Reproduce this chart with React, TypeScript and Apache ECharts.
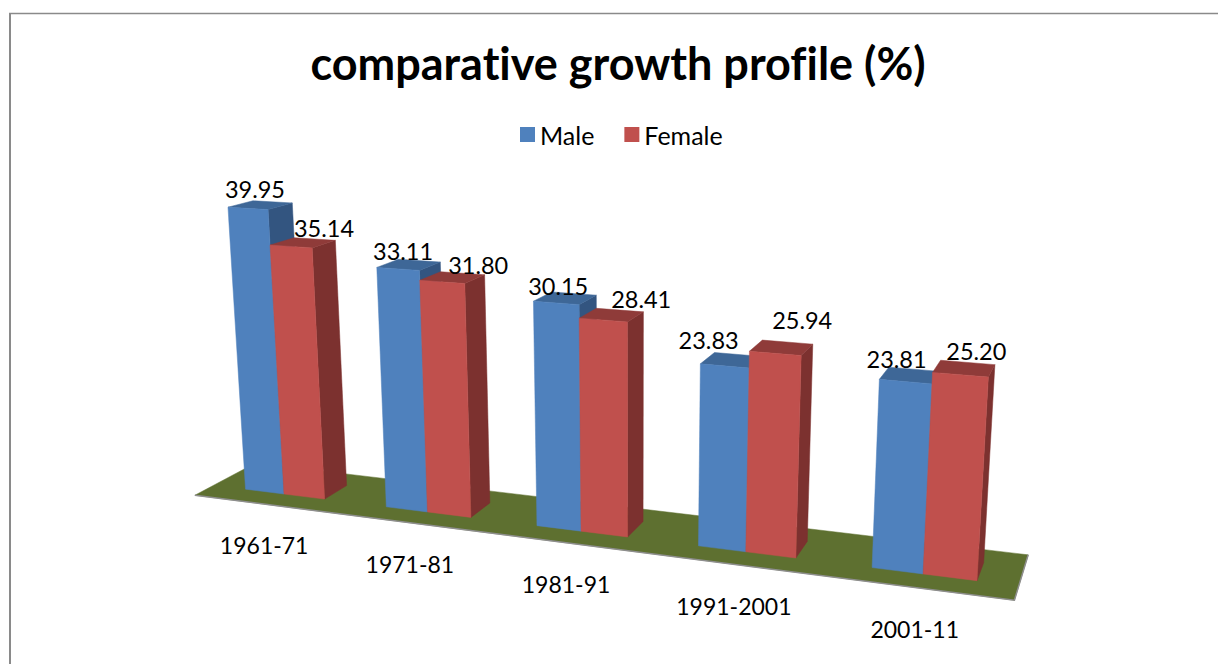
import React, { useEffect, useRef } from "react";
import * as echarts from "echarts";

const categories = ["1961-71", "1971-81", "1981-91", "1991-2001", "2001-11"];
const maleValues = [39.95, 33.11, 30.15, 23.83, 23.81];
const femaleValues = [35.14, 31.8, 28.41, 25.94, 25.2];

// Nudges of the data labels from the top centre of each bar's front face.
const maleLabelNudge = [[7, -19], [5, -18], [2, -17], [-16, -26], [-9, -23]];
const femaleLabelNudge = [[33, -18], [36, -17], [38, -21], [27, -33], [16, -24]];

const VALUE_MAX = 40;
const MALE_WIDTH = 0.28;
const FEMALE_WIDTH = 0.29;
const FONT = "Lato, 'Open Sans', sans-serif";

// Pinhole projection fitted to the reference: u = category position, h = value, z = depth.
function project(u: number, h: number, z: number): [number, number] {
  const w = 1 - 0.0329 * u - 0.00109 * h + 0.0252 * z;
  const x = 284 + 129.4 * u - 0.691 * h + 30.5 * z;
  const y = 494 + 1.1 * u - 7.35 * h - 1.134 * z;
  return [x / w, y / w];
}

// Read a category/value pair through the hidden axes and turn it into (u, h).
function toModel(api: any, params: any, index: number, value: number) {
  const p = api.coord([index, value]);
  const cs = params.coordSys;
  return {
    u: ((p[0] - cs.x) / cs.width) * categories.length - 0.5,
    h: ((cs.y + cs.height - p[1]) / cs.height) * VALUE_MAX,
  };
}

function poly(points: [number, number][], fill: string) {
  return { type: "polygon", shape: { points }, style: { fill, stroke: fill, lineWidth: 0.5 } };
}

function barRenderer(uStart: number, uEnd: number, front: string, top: string, side: string) {
  return (params: any, api: any) => {
    const m = toModel(api, params, api.value(0), api.value(1));
    const a = m.u + uStart;
    const b = m.u + uEnd;
    return {
      type: "group",
      children: [
        poly([project(b, 0, 0), project(b, 0, 1), project(b, m.h, 1), project(b, m.h, 0)], side),
        poly([project(a, m.h, 0), project(a, m.h, 1), project(b, m.h, 1), project(b, m.h, 0)], top),
        poly([project(a, 0, 0), project(b, 0, 0), project(b, m.h, 0), project(a, m.h, 0)], front),
      ],
    };
  };
}

function labelRenderer(uStart: number, uEnd: number, nudges: number[][]) {
  return (params: any, api: any) => {
    const m = toModel(api, params, api.value(0), api.value(1));
    const c = project(m.u + (uStart + uEnd) / 2, m.h, 0);
    const n = nudges[params.dataIndex];
    return {
      type: "text",
      x: c[0] + n[0],
      y: c[1] + n[1],
      style: {
        text: api.value(1).toFixed(2),
        font: `23.5px ${FONT}`,
        fill: "#000",
        textAlign: "center",
        textVerticalAlign: "middle",
      },
    };
  };
}

function floorRenderer(params: any, api: any) {
  const l = toModel(api, params, 0, 0).u - 0.515;
  const r = toModel(api, params, categories.length - 1, 0).u + 0.51;
  const fl = project(l, 0, -0.75);
  const fr = project(r, 0, -0.75);
  const br = project(r, 0, 1.75);
  const bl = project(l, 0, 1.75);
  return {
    type: "group",
    children: [
      poly([fl, fr, br, bl], "#5E7030"),
      {
        type: "polyline",
        shape: { points: [fl, fr, br] },
        style: { fill: "none", stroke: "#8E8E8E", lineWidth: 1.5 },
      },
    ],
  };
}

function categoryRenderer(params: any, api: any) {
  const m = toModel(api, params, api.value(0), 0);
  const c = project(m.u, 0, -0.75);
  return {
    type: "text",
    x: c[0] - 2,
    y: c[1] + 41,
    style: {
      text: categories[params.dataIndex],
      font: `23px ${FONT}`,
      fill: "#000",
      textAlign: "center",
      textVerticalAlign: "middle",
    },
  };
}

export default function App() {
  const ref = useRef<HTMLDivElement>(null);
  useEffect(() => {
    document.body.style.margin = "0";
    document.body.style.overflow = "hidden";
    const chart = echarts.init(ref.current!, undefined, { renderer: "svg" });
    const rows = (vals: number[]) => vals.map((v, i) => [i, v]);
    chart.setOption({
      animation: false,
      backgroundColor: "#fff",
      title: {
        text: "comparative growth profile (%)",
        left: 613,
        top: 35,
        textAlign: "center",
        textStyle: { fontFamily: FONT, fontWeight: "bold", fontSize: 45, color: "#000" },
      },
      legend: {
        data: ["Male", "Female"],
        left: 515,
        top: 117,
        icon: "rect",
        itemWidth: 15,
        itemHeight: 15,
        itemGap: 30,
        textStyle: { fontFamily: FONT, fontSize: 25, color: "#000" },
      },
      grid: { left: 100, top: 100, width: 1000, height: 400 },
      xAxis: { type: "category", data: categories, show: false },
      yAxis: { type: "value", min: 0, max: VALUE_MAX, show: false },
      graphic: [
        {
          type: "line",
          silent: true,
          z: 0,
          shape: { x1: 10, y1: 13, x2: 10, y2: 664 },
          style: { stroke: "#8A8A8A", lineWidth: 2 },
        },
        {
          type: "line",
          silent: true,
          z: 0,
          shape: { x1: 9, y1: 13.5, x2: 1218, y2: 13.5 },
          style: { stroke: "#8A8A8A", lineWidth: 1.5 },
        },
      ],
      series: [
        {
          type: "custom",
          z: 1,
          silent: true,
          data: [[0, 0]],
          encode: { x: 0, y: 1 },
          renderItem: floorRenderer,
        },
        {
          name: "Male",
          type: "custom",
          z: 2,
          silent: true,
          itemStyle: { color: "#4F81BD" },
          data: rows(maleValues),
          encode: { x: 0, y: 1 },
          renderItem: barRenderer(-MALE_WIDTH, 0, "#4F81BD", "#3E6797", "#335580"),
        },
        {
          name: "Female",
          type: "custom",
          z: 3,
          silent: true,
          itemStyle: { color: "#C0504D" },
          data: rows(femaleValues),
          encode: { x: 0, y: 1 },
          renderItem: barRenderer(0, FEMALE_WIDTH, "#C0504D", "#8F3B39", "#7C312F"),
        },
        {
          type: "custom",
          z: 5,
          silent: true,
          data: rows(maleValues),
          encode: { x: 0, y: 1 },
          renderItem: labelRenderer(-MALE_WIDTH, 0, maleLabelNudge),
        },
        {
          type: "custom",
          z: 5,
          silent: true,
          data: rows(femaleValues),
          encode: { x: 0, y: 1 },
          renderItem: labelRenderer(0, FEMALE_WIDTH, femaleLabelNudge),
        },
        {
          type: "custom",
          z: 5,
          silent: true,
          data: categories.map((_, i) => [i, 0]),
          encode: { x: 0, y: 1 },
          renderItem: categoryRenderer,
        },
      ],
    });
    return () => chart.dispose();
  }, []);
  return (
    <div
      ref={ref}
      style={{ position: "absolute", left: 0, top: 0, width: 1218, height: 664, fontVariantLigatures: "none" }}
    />
  );
}
